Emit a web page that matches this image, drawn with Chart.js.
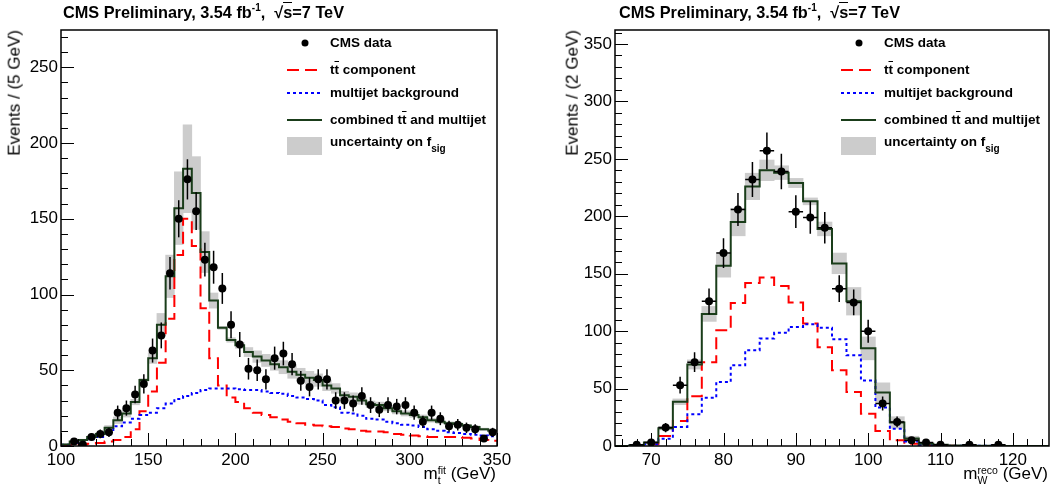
<!DOCTYPE html>
<html>
<head>
<meta charset="utf-8">
<script src="https://cdn.jsdelivr.net/npm/chart.js@4.4.0/dist/chart.umd.min.js"></script>
<style>
  body { margin: 0; background: #fff; width: 1053px; height: 492px; position: relative; overflow: hidden;
         font-family: "Liberation Sans", Arial, Helvetica, sans-serif; }
  canvas { position: absolute; top: 0; }
  .txt { position: absolute; white-space: nowrap; color: #000; }
  .title { font-weight: bold; font-size: 16.3px; line-height: 20px; }
  .title sup { font-size: 10px; vertical-align: 7px; line-height: 0; }
  .rad { border-top: 1.5px solid #000; padding-top: 0; }
  .axt { font-size: 17px; line-height: 20px; }
  .leg { font-weight: bold; font-size: 13.5px; line-height: 16px; }
  .ss { display: inline-block; vertical-align: -5px; font-size: 10.5px; line-height: 10px; }
  .ss span { display: block; }
  .ob { text-decoration: overline; }
</style>
</head>
<body>
<canvas id="cTop" width="530" height="492" style="left:0"></canvas>
<canvas id="cW" width="523" height="492" style="left:530px"></canvas>

<div class="txt title" style="left:63px;top:2px">CMS Preliminary, 3.54 fb<sup>-1</sup>,&nbsp; √<span class="rad">s</span>=7 TeV</div>
<div class="txt title" style="left:619px;top:2px">CMS Preliminary, 3.54 fb<sup>-1</sup>,&nbsp; √<span class="rad">s</span>=7 TeV</div>

<div class="txt axt" style="right:1048px;top:30px;transform-origin:top right;transform:rotate(-90deg)">Events / (5 GeV)</div>
<div class="txt axt" style="right:490px;top:30px;transform-origin:top right;transform:rotate(-90deg)">Events / (2 GeV)</div>

<div class="txt axt" style="right:557px;top:464px">m<span class="ss"><span>fit</span><span>t</span></span> (GeV)</div>
<div class="txt axt" style="right:5px;top:464px">m<span class="ss"><span>reco</span><span>W</span></span> (GeV)</div>

<script>
const FONT = '"Liberation Sans", Arial, Helvetica, sans-serif';

// ---- top mass fit panel (5 GeV bins, 100-350) ----
const topLo = 100, topBinW = 5;
const topTicksX = [100, 150, 200, 250, 300, 350];
const topTicksY = [0, 50, 100, 150, 200, 250];
const topData = [null, 3, 1, 6, 8, 9, 22, 25, 34, 41, 63, 73, 114, 150, 176, 155, 123, 118, 104, 80,
  67, 51, 50, 44, 58, 61, 54, 43, 39, 44, 44, 30, 30, 28, 33, 27, 24, 27, 26, 27,
  22, 16, 22, 18, 13, 14, 12, 11, 5, 9];
const topSignal = [0.3, 0.8, 1, 1.5, 2, 3, 4, 6, 11, 23, 36, 55, 84, 126, 150, 132, 91, 58, 40, 32,
  29, 25, 22, 20.5, 19, 17.5, 16, 15, 14, 13.5, 13, 12.5, 11.5, 11, 10, 9.5, 9.5, 9, 8, 7.5,
  7, 6.5, 6, 6, 6, 6, 5.5, 5, 4, 3.5];
const topBkg = [0.8, 2, 3, 4.5, 6, 9, 13, 15.5, 18, 20.5, 22, 25, 28, 31, 33, 35, 37, 38, 38, 38,
  37.5, 37, 37, 36, 35, 34.5, 33, 32, 31, 30, 27, 25.5, 22, 21.5, 20, 18, 17.5, 16, 15, 14,
  13.5, 12.5, 11, 10, 9, 8.5, 8, 7.5, 7, 6.5];
const topComb = [1, 3, 4, 6, 8, 12, 17, 21.5, 29, 43.5, 58, 80, 112, 157, 183, 167, 128, 96, 78, 70,
  66.5, 62, 59, 56.5, 54, 52, 49, 47, 45, 43.5, 40, 38, 33.5, 32.5, 30, 27.5, 27, 25, 23, 21.5,
  20.5, 19, 17, 16, 15, 14.5, 13.5, 12.5, 11, 10];
const topUnc = [0.5, 0.5, 0.5, 0.8, 1, 1.5, 2.2, 2.4, 1.8, 1, 3.5, 7.5, 14, 24, 29, 24, 13.5, 5, 1, 1.5,
  2, 3, 3.8, 4, 4, 4.3, 4.3, 4.3, 4.3, 4.1, 3.5, 3.2, 2.6, 2.6, 2.5, 2.2, 2, 1.8, 1.8, 1.7,
  1.6, 1.5, 1.3, 1.2, 1, 0.9, 0.8, 0.8, 0.8, 0.8];

// ---- W mass panel (2 GeV bins, 65-125) ----
const wLo = 65, wBinW = 2;
const wTicksX = [70, 80, 90, 100, 110, 120];
const wTicksY = [0, 50, 100, 150, 200, 250, 300, 350];
const wData = [null, 1, 3, 16, 53, 73, 126, 168, 206, 232, 257, 239, 204, 199, 190, 137, 125, 100, 37, 21,
  5, 3, 1, null, 1, null, 1, null, null, null];
const wSignal = [0, 0.3, 1.5, 8.7, 21.8, 43.3, 73, 100.8, 124.6, 142, 146.7, 139.4, 125, 106.6, 86, 66, 47, 28, 13, 5,
  2, 0.8, 0.4, 0.2, 0.1, 0.1, 0, 0, 0, 0];
const wBkg = [0, 0.3, 1.5, 6.4, 16.6, 27.6, 42, 55.8, 70.3, 83.4, 93.6, 98.5, 103.7, 106, 103, 93, 79, 57, 33.5, 15,
  4, 1, 0.5, 0.3, 0.2, 0.2, 0.1, 0.1, 0.1, 0.1];
const wComb = [0, 0.6, 3, 15.5, 38.5, 71, 115, 157, 195, 226, 240, 238, 229, 213, 189, 159, 126, 85, 46.5, 20.5,
  6.5, 2, 1, 0.5, 0.3, 0.3, 0.1, 0.1, 0.1, 0.1];
const wUnc = [0, 0.2, 0.5, 1.5, 2.5, 4, 6.5, 10, 12, 11.5, 9, 6, 4, 3, 6, 9, 12, 10, 8.5, 5,
  2, 0.5, 0.3, 0.2, 0.1, 0.1, 0, 0, 0, 0];

const legendLabels = [
  'CMS data',
  't<span class="ob">t</span> component',
  'multijet background',
  'combined t<span class="ob">t</span> and multijet',
  'uncertainty on f<span style="font-size:10px;vertical-align:-6px">sig</span>'
];
const legendY = [43, 70, 93, 120, 142];

const SIG_COLOR = '#ff0000', BKG_COLOR = '#0000ff', COMB_COLOR = '#1a3d1a', BAND_COLOR = '#cccccc';

// histogram outline: one flat segment per bin
function histLine(lo, w, vals) {
  const pts = [];
  vals.forEach((v, i) => { pts.push({ x: lo + i * w, y: v }, { x: lo + (i + 1) * w, y: v }); });
  return pts;
}

const rootPlugin = {
  id: 'rootStyle',
  afterDatasetsDraw(chart, args, o) {
    const { ctx, scales: { x, y } } = chart;
    ctx.save();
    ctx.strokeStyle = '#000';
    ctx.lineWidth = 1.5;
    o.data.forEach((v, i) => {
      if (v === null) return;
      const c = o.lo + (i + 0.5) * o.bw;
      const e = Math.sqrt(v);
      const px = x.getPixelForValue(c);
      ctx.beginPath();
      ctx.moveTo(px, y.getPixelForValue(v - e));
      ctx.lineTo(px, y.getPixelForValue(v + e));
      if (o.xErr) {
        ctx.moveTo(x.getPixelForValue(c - o.bw / 2), y.getPixelForValue(v));
        ctx.lineTo(x.getPixelForValue(c + o.bw / 2), y.getPixelForValue(v));
      }
      ctx.stroke();
    });
    ctx.restore();
  },
  afterDraw(chart, args, o) {
    const { ctx, chartArea: a, scales: { x, y } } = chart;
    ctx.save();
    ctx.strokeStyle = '#000';
    ctx.lineWidth = 1.5;
    ctx.strokeRect(a.left, a.top, a.right - a.left, a.bottom - a.top);
    ctx.lineWidth = 1;
    ctx.beginPath();
    for (let v = Math.ceil(x.min / o.minorX) * o.minorX; v <= x.max; v += o.minorX) {
      const px = Math.round(x.getPixelForValue(v)) + 0.5;
      const len = o.ticksX.includes(v) ? 13 : 7;
      ctx.moveTo(px, a.bottom); ctx.lineTo(px, a.bottom - len);
    }
    for (let v = 0; v <= y.max; v += o.minorY) {
      const py = Math.round(y.getPixelForValue(v)) + 0.5;
      const len = o.ticksY.includes(v) ? 13 : 7;
      ctx.moveTo(a.left, py); ctx.lineTo(a.left + len, py);
    }
    ctx.stroke();

    // legend symbols
    const lx = a.left + 226;
    ctx.fillStyle = '#000';
    ctx.beginPath(); ctx.arc(lx + 18, legendY[0], 3.5, 0, Math.PI * 2); ctx.fill();
    ctx.lineWidth = 2;
    [[SIG_COLOR, [12, 6]], [BKG_COLOR, [3, 3]], [COMB_COLOR, []]].forEach(([col, dash], k) => {
      ctx.strokeStyle = col;
      ctx.setLineDash(dash);
      ctx.beginPath(); ctx.moveTo(lx, legendY[k + 1]); ctx.lineTo(lx + 35, legendY[k + 1]); ctx.stroke();
    });
    ctx.setLineDash([]);
    ctx.fillStyle = BAND_COLOR;
    ctx.fillRect(lx, 137, 35, 18);
    ctx.restore();
  }
};

function makePanel(p) {
  const centers = p.data.map((v, i) => p.lo + (i + 0.5) * p.bw);
  const tickFont = { family: FONT, size: 17 };
  new Chart(document.getElementById(p.id), {
    type: 'line',
    data: {
      datasets: [
        {
          type: 'scatter', label: 'CMS data', order: 0,
          data: p.data.map((v, i) => v === null ? null : { x: centers[i], y: v }).filter(d => d),
          pointRadius: 4, pointBackgroundColor: '#000', pointBorderWidth: 0, showLine: false
        },
        { label: 'combined', order: 1, data: histLine(p.lo, p.bw, p.comb), borderColor: COMB_COLOR,
          borderWidth: 2, pointRadius: 0, tension: 0 },
        { label: 'multijet', order: 2, data: histLine(p.lo, p.bw, p.bkg), borderColor: BKG_COLOR,
          borderWidth: 2, borderDash: [3, 3], pointRadius: 0, tension: 0 },
        { label: 'ttbar', order: 3, data: histLine(p.lo, p.bw, p.sig), borderColor: SIG_COLOR,
          borderWidth: 2, borderDash: [12, 6], pointRadius: 0, tension: 0 },
        {
          type: 'bar', label: 'uncertainty', order: 4,
          data: p.comb.map((v, i) => ({ x: centers[i], y: [v - p.unc[i], v + p.unc[i]] })),
          backgroundColor: BAND_COLOR, borderWidth: 0, barPercentage: 1, categoryPercentage: 1
        }
      ]
    },
    options: {
      responsive: false, animation: false, devicePixelRatio: 1, events: [],
      layout: { padding: { top: 30, right: p.padRight, left: 0, bottom: 0 } },
      plugins: {
        legend: { display: false }, tooltip: { enabled: false },
        rootStyle: { data: p.data, lo: p.lo, bw: p.bw, xErr: p.xErr, ticksX: p.ticksX, ticksY: p.ticksY,
                     minorX: p.minorX, minorY: 10 }
      },
      scales: {
        x: {
          type: 'linear', min: p.xMin, max: p.xMax, offset: false,
          grid: { display: false, drawTicks: false }, border: { display: false },
          ticks: { color: '#000', font: tickFont, padding: 4, maxRotation: 0, autoSkip: false },
          afterBuildTicks: s => { s.ticks = p.ticksX.map(v => ({ value: v })); },
          afterFit: s => { s.height = 46; }
        },
        y: {
          type: 'linear', min: 0, max: p.yMax,
          grid: { display: false, drawTicks: false }, border: { display: false },
          ticks: { color: '#000', font: tickFont, padding: 3, autoSkip: false },
          afterBuildTicks: s => { s.ticks = p.ticksY.map(v => ({ value: v })); },
          afterFit: s => { s.width = p.axisW; }
        }
      }
    },
    plugins: [rootPlugin]
  });

  // legend text
  legendLabels.forEach((t, k) => {
    const d = document.createElement('div');
    d.className = 'txt leg';
    d.style.left = (p.left + p.axisW + 269) + 'px';
    d.style.top = (legendY[k] - 8) + 'px';
    d.innerHTML = t;
    document.body.appendChild(d);
  });
}

makePanel({ id: 'cTop', left: 0, axisW: 61, padRight: 33, xMin: 100, xMax: 350, yMax: 274.6,
  lo: topLo, bw: topBinW, ticksX: topTicksX, ticksY: topTicksY, minorX: 10, xErr: false,
  data: topData, sig: topSignal, bkg: topBkg, comb: topComb, unc: topUnc });
makePanel({ id: 'cW', left: 530, axisW: 85, padRight: 3, xMin: 65, xMax: 125, yMax: 362.2,
  lo: wLo, bw: wBinW, ticksX: wTicksX, ticksY: wTicksY, minorX: 2, xErr: true,
  data: wData, sig: wSignal, bkg: wBkg, comb: wComb, unc: wUnc });
</script>
</body>
</html>
